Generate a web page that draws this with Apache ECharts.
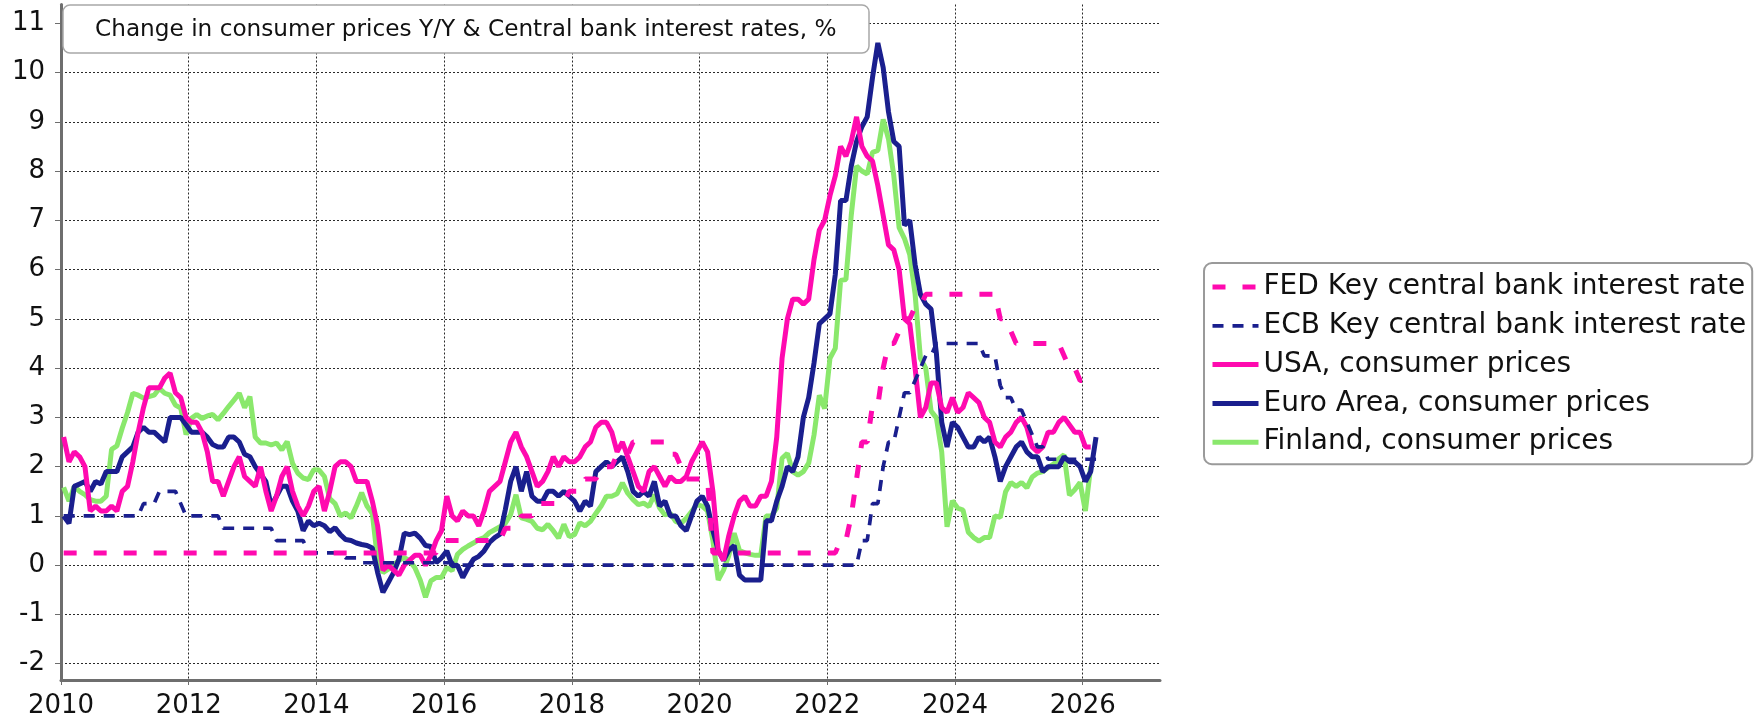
<!DOCTYPE html>
<html lang="en">

<head>
    <meta charset="UTF-8">
    <title>Change in consumer prices Y/Y & Central bank interest rates</title>
    <script src="https://cdn.jsdelivr.net/npm/echarts@6/dist/echarts.min.js"></script>
    <style>
        html, body {
            margin: 0;
            padding: 0;
            background: #fff;
        }
        .demo {
            width: 1761px;
            height: 719px;
        }
    </style>
</head>

<body>
    <div class="demo"></div>
    <script>
        // monthly values, first value = Jan 2010
        var startYear = 2010

        var fedRate = [
            0.25, 0.25, 0.25, 0.25, 0.25, 0.25, 0.25, 0.25, 0.25, 0.25, 0.25, 0.25, // 2010
            0.25, 0.25, 0.25, 0.25, 0.25, 0.25, 0.25, 0.25, 0.25, 0.25, 0.25, 0.25, // 2011
            0.25, 0.25, 0.25, 0.25, 0.25, 0.25, 0.25, 0.25, 0.25, 0.25, 0.25, 0.25, // 2012
            0.25, 0.25, 0.25, 0.25, 0.25, 0.25, 0.25, 0.25, 0.25, 0.25, 0.25, 0.25, // 2013
            0.25, 0.25, 0.25, 0.25, 0.25, 0.25, 0.25, 0.25, 0.25, 0.25, 0.25, 0.25, // 2014
            0.25, 0.25, 0.25, 0.25, 0.25, 0.25, 0.25, 0.25, 0.25, 0.25, 0.25, 0.5,  // 2015
            0.5, 0.5, 0.5, 0.5, 0.5, 0.5, 0.5, 0.5, 0.5, 0.5, 0.5, 0.75,           // 2016
            0.75, 0.75, 1, 1, 1, 1.25, 1.25, 1.25, 1.25, 1.25, 1.25, 1.5,          // 2017
            1.5, 1.5, 1.75, 1.75, 1.75, 2, 2, 2, 2.25, 2.25, 2.25, 2.5,            // 2018
            2.5, 2.5, 2.5, 2.5, 2.5, 2.5, 2.25, 2.25, 2, 1.75, 1.75, 1.75,         // 2019
            1.75, 1.75, 0.25, 0.25, 0.25, 0.25, 0.25, 0.25, 0.25, 0.25, 0.25, 0.25, // 2020
            0.25, 0.25, 0.25, 0.25, 0.25, 0.25, 0.25, 0.25, 0.25, 0.25, 0.25, 0.25, // 2021
            0.25, 0.25, 0.5, 0.5, 1, 1.75, 2.5, 2.5, 3.25, 3.25, 4, 4.5,           // 2022
            4.5, 4.75, 5, 5, 5.25, 5.25, 5.5, 5.5, 5.5, 5.5, 5.5, 5.5,             // 2023
            5.5, 5.5, 5.5, 5.5, 5.5, 5.5, 5.5, 5.5, 5, 5, 4.75, 4.5,               // 2024
            4.5, 4.5, 4.5, 4.5, 4.5, 4.5, 4.5, 4.5, 4.25, 4, 4, 3.75,              // 2025
            3.75, 3.75, 3.75                                                       // 2026
        ]

        var ecbRate = [
            1, 1, 1, 1, 1, 1, 1, 1, 1, 1, 1, 1,                                    // 2010
            1, 1, 1, 1.25, 1.25, 1.25, 1.5, 1.5, 1.5, 1.5, 1.25, 1,                // 2011
            1, 1, 1, 1, 1, 1, 0.75, 0.75, 0.75, 0.75, 0.75, 0.75,                  // 2012
            0.75, 0.75, 0.75, 0.75, 0.5, 0.5, 0.5, 0.5, 0.5, 0.5, 0.25, 0.25,      // 2013
            0.25, 0.25, 0.25, 0.25, 0.25, 0.15, 0.15, 0.15, 0.05, 0.05, 0.05, 0.05, // 2014
            0.05, 0.05, 0.05, 0.05, 0.05, 0.05, 0.05, 0.05, 0.05, 0.05, 0.05, 0.05, // 2015
            0.05, 0.05, 0, 0, 0, 0, 0, 0, 0, 0, 0, 0,                              // 2016
            0, 0, 0, 0, 0, 0, 0, 0, 0, 0, 0, 0,                                    // 2017
            0, 0, 0, 0, 0, 0, 0, 0, 0, 0, 0, 0,                                    // 2018
            0, 0, 0, 0, 0, 0, 0, 0, 0, 0, 0, 0,                                    // 2019
            0, 0, 0, 0, 0, 0, 0, 0, 0, 0, 0, 0,                                    // 2020
            0, 0, 0, 0, 0, 0, 0, 0, 0, 0, 0, 0,                                    // 2021
            0, 0, 0, 0, 0, 0, 0.5, 0.5, 1.25, 1.25, 2, 2.5,                        // 2022
            2.5, 3, 3.5, 3.5, 3.75, 4, 4.25, 4.25, 4.5, 4.5, 4.5, 4.5,             // 2023
            4.5, 4.5, 4.5, 4.5, 4.5, 4.25, 4.25, 4.25, 3.65, 3.4, 3.4, 3.15,       // 2024
            3.15, 2.9, 2.65, 2.4, 2.4, 2.15, 2.15, 2.15, 2.15, 2.15, 2.15, 2.15,   // 2025
            2.15, 2.15, 2.15                                                       // 2026
        ]

        var usaCpi = [
            2.6, 2.1, 2.3, 2.2, 2.0, 1.1, 1.2, 1.1, 1.1, 1.2, 1.1, 1.5,            // 2010
            1.6, 2.1, 2.7, 3.2, 3.6, 3.6, 3.6, 3.8, 3.9, 3.5, 3.4, 3.0,            // 2011
            2.9, 2.9, 2.7, 2.3, 1.7, 1.7, 1.4, 1.7, 2.0, 2.2, 1.8, 1.7,            // 2012
            1.6, 2.0, 1.5, 1.1, 1.4, 1.8, 2.0, 1.5, 1.2, 1.0, 1.2, 1.5,            // 2013
            1.6, 1.1, 1.5, 2.0, 2.1, 2.1, 2.0, 1.7, 1.7, 1.7, 1.3, 0.8,            // 2014
            -0.1, 0.0, -0.1, -0.2, 0.0, 0.1, 0.2, 0.2, 0.0, 0.2, 0.5, 0.7,         // 2015
            1.4, 1.0, 0.9, 1.1, 1.0, 1.0, 0.8, 1.1, 1.5, 1.6, 1.7, 2.1,            // 2016
            2.5, 2.7, 2.4, 2.2, 1.9, 1.6, 1.7, 1.9, 2.2, 2.0, 2.2, 2.1,            // 2017
            2.1, 2.2, 2.4, 2.5, 2.8, 2.9, 2.9, 2.7, 2.3, 2.5, 2.2, 1.9,            // 2018
            1.6, 1.5, 1.9, 2.0, 1.8, 1.6, 1.8, 1.7, 1.7, 1.8, 2.1, 2.3,            // 2019
            2.5, 2.3, 1.5, 0.3, 0.1, 0.6, 1.0, 1.3, 1.4, 1.2, 1.2, 1.4,            // 2020
            1.4, 1.7, 2.6, 4.2, 5.0, 5.4, 5.4, 5.3, 5.4, 6.2, 6.8, 7.0,            // 2021
            7.5, 7.9, 8.5, 8.3, 8.6, 9.1, 8.5, 8.3, 8.2, 7.7, 7.1, 6.5,            // 2022
            6.4, 6.0, 5.0, 4.9, 4.0, 3.0, 3.2, 3.7, 3.7, 3.2, 3.1, 3.4,            // 2023
            3.1, 3.2, 3.5, 3.4, 3.3, 3.0, 2.9, 2.5, 2.4, 2.6, 2.7, 2.9,            // 2024
            3.0, 2.8, 2.4, 2.3, 2.4, 2.7, 2.7, 2.9, 3.0, null, 2.7, 2.7,           // 2025
            2.4, 2.4                                                               // 2026
        ]

        var euroCpi = [
            1.0, 0.85, 1.6, 1.65, 1.7, 1.5, 1.7, 1.65, 1.9, 1.9, 1.9, 2.2,         // 2010
            2.3, 2.4, 2.7, 2.8, 2.7, 2.7, 2.6, 2.5, 3.0, 3.0, 3.0, 2.85,           // 2011
            2.7, 2.7, 2.7, 2.6, 2.45, 2.4, 2.4, 2.6, 2.6, 2.5, 2.25, 2.2,          // 2012
            2.0, 1.85, 1.7, 1.2, 1.4, 1.6, 1.6, 1.3, 1.1, 0.7, 0.9, 0.8,           // 2013
            0.85, 0.8, 0.68, 0.76, 0.62, 0.52, 0.5, 0.45, 0.42, 0.4, 0.35, -0.15,  // 2014
            -0.55, -0.35, -0.15, 0.12, 0.65, 0.62, 0.65, 0.55, 0.4, 0.38, 0.05, 0.15, // 2015
            0.29, -0.01, 0.0, -0.25, -0.05, 0.12, 0.18, 0.29, 0.46, 0.56, 0.63, 1.13, // 2016
            1.7, 2.0, 1.5, 1.9, 1.4, 1.3, 1.3, 1.5, 1.5, 1.4, 1.5, 1.4,            // 2017
            1.3, 1.1, 1.3, 1.2, 1.9, 2.0, 2.1, 2.0, 2.1, 2.2, 1.9, 1.5,            // 2018
            1.4, 1.5, 1.4, 1.7, 1.2, 1.3, 1.0, 1.0, 0.8, 0.7, 1.0, 1.3,            // 2019
            1.4, 1.2, 0.7, 0.3, 0.1, 0.3, 0.4, -0.2, -0.3, -0.3, -0.3, -0.3,       // 2020
            0.9, 0.9, 1.3, 1.6, 2.0, 1.9, 2.2, 3.0, 3.4, 4.1, 4.9, 5.0,            // 2021
            5.1, 5.9, 7.4, 7.4, 8.1, 8.6, 8.9, 9.1, 9.9, 10.6, 10.1, 9.2,          // 2022
            8.6, 8.5, 6.9, 7.0, 6.1, 5.5, 5.3, 5.2, 4.3, 2.9, 2.4, 2.9,            // 2023
            2.8, 2.6, 2.4, 2.4, 2.6, 2.5, 2.6, 2.2, 1.7, 2.0, 2.2, 2.4,            // 2024
            2.5, 2.3, 2.2, 2.2, 1.9, 2.0, 2.0, 2.0, 2.2, 2.1, 2.1, 2.0,            // 2025
            1.7, 1.9, 2.6                                                          // 2026
        ]

        var finlandCpi = [
            1.58, 1.3, 1.6, 1.5, 1.43, 1.33, 1.3, 1.3, 1.4, 2.35, 2.42, 2.78,      // 2010
            3.1, 3.49, 3.45, 3.39, 3.42, 3.45, 3.59, 3.49, 3.45, 3.25, 3.19, 2.65, // 2011
            2.98, 3.06, 2.98, 3.03, 3.06, 2.95, 3.08, 3.22, 3.35, 3.49, 3.2, 3.42, // 2012
            2.6, 2.48, 2.48, 2.44, 2.48, 2.34, 2.51, 2.07, 1.87, 1.77, 1.74, 1.94, // 2013
            1.93, 1.8, 1.35, 1.25, 1.0, 1.06, 0.96, 1.2, 1.47, 1.2, 1.05, 0.1,     // 2014
            -0.15, -0.08, 0.0, 0.1, 0.15, 0.09, -0.05, -0.3, -0.65, -0.32, -0.25, -0.25, // 2015
            -0.05, -0.11, 0.22, 0.32, 0.39, 0.45, 0.52, 0.56, 0.66, 0.72, 0.78, 0.85, // 2016
            1.03, 1.43, 0.96, 0.93, 0.89, 0.75, 0.72, 0.83, 0.7, 0.55, 0.83, 0.58, // 2017
            0.62, 0.86, 0.8, 0.89, 1.05, 1.2, 1.4, 1.4, 1.45, 1.67, 1.46, 1.33,    // 2018
            1.23, 1.26, 1.19, 1.43, 1.16, 1.02, 1.05, 0.89, 0.85, 0.95, 1.09, 1.23, // 2019
            1.2, 1.1, 0.5, -0.3, -0.1, 0.2, 0.65, 0.3, 0.25, 0.22, 0.2, 0.2,       // 2020
            1.0, 1.0, 1.16, 2.17, 2.27, 1.9, 1.83, 1.9, 2.07, 2.64, 3.45, 3.18,    // 2021
            4.2, 4.4, 5.78, 5.8, 7.1, 8.1, 8.0, 7.94, 8.38, 8.42, 9.05, 8.65,      // 2022
            7.9, 6.85, 6.63, 6.3, 5.5, 4.2, 4.0, 3.13, 2.99, 2.3, 0.78, 1.31,      // 2023
            1.16, 1.12, 0.67, 0.56, 0.49, 0.56, 0.56, 1.0, 0.97, 1.49, 1.68, 1.6,  // 2024
            1.68, 1.57, 1.79, 1.87, 1.9, 1.98, 2.05, 2.16, 2.24, 1.42, 1.53, 1.68, // 2025
            1.1, 2.0                                                               // 2026
        ]

        var seriesNames = [
            'FED Key central bank interest rate',
            'ECB Key central bank interest rate',
            'USA, consumer prices',
            'Euro Area, consumer prices',
            'Finland, consumer prices'
        ]
        var seriesColors = ['#ff0aaf', '#1a1f8e', '#ff0aaf', '#1a1f8e', '#8ae86c']
        var lineWidths = [5, 3.7, 5, 5, 5]

        // month i is plotted in the middle of its month
        function toPoints(values) {
            return values.map(function (v, i) {
                return [startYear + (i + 0.5) / 12, v]
            })
        }

        var font = 'DejaVu Sans'
        var dotted = { color: '#2a2a2a', width: 1, type: [2, 2] }

        var chart = echarts.init(document.querySelector('.demo'))
        var option = {
            animation: false,
            backgroundColor: '#fff',
            title: {
                text: 'Change in consumer prices Y/Y & Central bank interest rates, %',
                left: 63,
                top: 5,
                padding: [13, 33, 12, 32],
                backgroundColor: '#fff',
                borderColor: '#a8a8a8',
                borderWidth: 1.5,
                borderRadius: 7,
                textStyle: { fontFamily: font, fontSize: 23.2, fontWeight: 'normal', color: '#111' }
            },
            legend: {
                orient: 'vertical',
                left: 1204,
                top: 263,
                padding: [10, 6, 8, 6],
                itemWidth: 46,
                itemHeight: 28,
                itemGap: 10.8,
                itemStyle: { opacity: 0 },
                backgroundColor: '#fff',
                borderColor: '#9a9a9a',
                borderWidth: 2,
                borderRadius: 8,
                textStyle: { fontFamily: font, fontSize: 28, color: '#111' },
                data: seriesNames.map(function (name, i) {
                    return { name: name, lineStyle: { width: lineWidths[i] } }
                })
            },
            grid: {
                left: 61,
                top: 4.5,
                right: 601,
                bottom: 36.3
            },
            xAxis: {
                type: 'value',
                min: 2010,
                max: 2027.21,
                interval: 2,
                axisLine: { onZero: false, lineStyle: { color: '#6e6e6e', width: 3 } },
                axisTick: { show: true, length: 5, lineStyle: { color: '#6e6e6e', width: 1 } },
                axisLabel: {
                    margin: 13,
                    showMaxLabel: false,
                    fontFamily: font,
                    fontSize: 26,
                    color: '#111',
                    formatter: function (v) { return String(v) }
                },
                splitLine: { show: true, showMinLine: true, showMaxLine: false, lineStyle: dotted }
            },
            yAxis: {
                type: 'value',
                min: -2.33,
                max: 11.38,
                splitNumber: 14,
                axisLine: { show: true, onZero: false, lineStyle: { color: '#6e6e6e', width: 3 } },
                axisTick: { show: true, length: 6, lineStyle: { color: '#6e6e6e', width: 1 } },
                axisLabel: {
                    margin: 16,
                    showMinLabel: false,
                    showMaxLabel: false,
                    fontFamily: font,
                    fontSize: 26,
                    color: '#111'
                },
                splitLine: { show: true, showMinLine: false, showMaxLine: false, lineStyle: dotted }
            },
            series: [
                {
                    name: seriesNames[0],
                    type: 'line',
                    z: 6,
                    data: toPoints(fedRate),
                    symbol: 'none',
                    color: seriesColors[0],
                    lineStyle: { width: lineWidths[0], type: [13, 17] }
                },
                {
                    name: seriesNames[1],
                    type: 'line',
                    z: 5,
                    data: toPoints(ecbRate),
                    symbol: 'none',
                    color: seriesColors[1],
                    lineStyle: { width: lineWidths[1], type: [11, 9] }
                },
                {
                    name: seriesNames[2],
                    type: 'line',
                    z: 4,
                    data: toPoints(usaCpi),
                    symbol: 'none',
                    connectNulls: true,
                    color: seriesColors[2],
                    lineStyle: { width: lineWidths[2] }
                },
                {
                    name: seriesNames[3],
                    type: 'line',
                    z: 3,
                    data: toPoints(euroCpi),
                    symbol: 'none',
                    color: seriesColors[3],
                    lineStyle: { width: lineWidths[3] }
                },
                {
                    name: seriesNames[4],
                    type: 'line',
                    z: 2,
                    data: toPoints(finlandCpi),
                    symbol: 'none',
                    color: seriesColors[4],
                    lineStyle: { width: lineWidths[4] }
                }
            ]
        }

        chart.setOption(option)
    </script>
</body>

</html>
